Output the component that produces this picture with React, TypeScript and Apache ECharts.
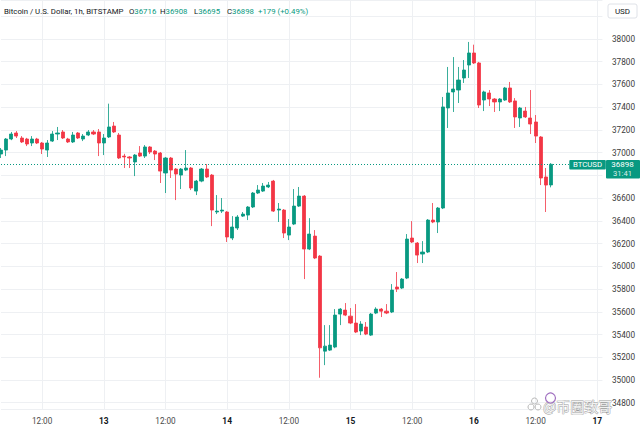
import React, { useEffect, useRef } from "react";
import * as echarts from "echarts";

// time slots: hourly candles starting at day 12, 04:00
const startDay = 12;
const startHour = 4;
const slotCount = 118;

const open = [
  36988, 37023, 37120, 37173, 37129, 37120, 37085, 37120, 37085, 37023,
  37102, 37164, 37182, 37120, 37094, 37173, 37120, 37155, 37182, 37182,
  37085, 37138, 37234, 37155, 36970, 36962, 36918, 36997, 36970, 37050,
  37014, 36997, 36821, 36953, 36856, 36803, 36847, 36865, 36662, 36750,
  36856, 36803, 36478, 36486, 36478, 36249, 36337, 36442, 36451, 36522,
  36645, 36662, 36698, 36750, 36495, 36495, 36275, 36372, 36530, 36618,
  36152, 36266, 36090, 35254, 35263, 35290, 35580, 35615, 35562, 35501,
  35431, 35466, 35395, 35589, 35624, 35606, 35598, 35818, 35809, 35897,
  36249, 36205, 36108, 36126, 36407, 36390, 36513, 37393, 37534, 37551,
  37657, 37771, 37877, 37789, 37463, 37525, 37472, 37446, 37463, 37569,
  37455, 37305, 37366, 37305, 37270, 37138, 36786, 36716,
];
const high = [
  37041, 37129, 37182, 37190, 37146, 37130, 37146, 37130, 37094, 37111,
  37190, 37226, 37199, 37130, 37182, 37182, 37164, 37199, 37199, 37208,
  37164, 37431, 37270, 37173, 36990, 36970, 36988, 37058, 37067, 37058,
  37023, 37006, 36962, 36962, 36865, 36865, 37023, 36874, 36760, 36865,
  36900, 36812, 36627, 36601, 36486, 36442, 36451, 36478, 36530, 36654,
  36715, 36733, 36742, 36760, 36557, 36504, 36416, 36680, 36698, 36627,
  36424, 36319, 36099, 35483, 35483, 35624, 35633, 35677, 35633, 35668,
  35518, 35510, 35590, 35640, 35633, 35668, 35844, 35950, 35897, 36284,
  36398, 36214, 36222, 36416, 36557, 36522, 37490, 37754, 37841, 37754,
  37815, 37974, 37950, 37798, 37545, 37551, 37480, 37480, 37578, 37622,
  37480, 37402, 37402, 37551, 37331, 37146, 36865, 36908,
];
const low = [
  36953, 36970, 37110, 37129, 37085, 37058, 37058, 37076, 36988, 36962,
  37094, 37111, 37120, 37085, 37085, 37120, 37102, 37146, 37155, 36970,
  36979, 37129, 37173, 36944, 36865, 36865, 36794, 36962, 36953, 36988,
  36935, 36733, 36645, 36777, 36583, 36680, 36838, 36671, 36627, 36740,
  36777, 36354, 36460, 36469, 36214, 36231, 36320, 36434, 36407, 36513,
  36636, 36654, 36689, 36478, 36390, 36249, 36231, 36363, 36522, 35888,
  36143, 36064, 35020, 35131, 35255, 35280, 35483, 35562, 35492, 35413,
  35395, 35395, 35387, 35580, 35554, 35580, 35589, 35774, 35800, 35888,
  36205, 36029, 36029, 36117, 36380, 36293, 36504, 37217, 37358, 37437,
  37613, 37657, 37780, 37393, 37366, 37410, 37358, 37366, 37455, 37437,
  37217, 37226, 37305, 37164, 37085, 36715, 36478, 36695,
];
const close = [
  37023, 37120, 37164, 37146, 37094, 37076, 37120, 37085, 37032, 37085,
  37164, 37173, 37129, 37094, 37155, 37129, 37146, 37182, 37164, 37085,
  37129, 37226, 37182, 36953, 36962, 36953, 36979, 36970, 37050, 37006,
  36988, 36838, 36953, 36847, 36812, 36856, 36865, 36689, 36750, 36856,
  36786, 36495, 36486, 36495, 36258, 36346, 36434, 36460, 36522, 36645,
  36671, 36706, 36715, 36486, 36504, 36293, 36346, 36530, 36618, 36152,
  36284, 36073, 35283, 35298, 35307, 35571, 35624, 35571, 35501, 35422,
  35492, 35404, 35580, 35624, 35606, 35589, 35791, 35800, 35888, 36240,
  36214, 36099, 36126, 36407, 36390, 36513, 37402, 37525, 37560, 37639,
  37727, 37877, 37789, 37419, 37534, 37472, 37446, 37472, 37569, 37446,
  37314, 37393, 37314, 37252, 37146, 36777, 36715, 36898,
];

const symbolName = "Bitcoin / U.S. Dollar, 1h, BITSTAMP";
const tickerLabel = "BTCUSD";
const countdown = "31:41";
const currency = "USD";
const legendItems = [
  { k: "O", v: "36716" },
  { k: "H", v: "36908" },
  { k: "L", v: "36695" },
  { k: "C", v: "36898" },
];
const changeText = "+179 (+0.49%)";
const watermark = "@币圈致哥";

const UP = "#089981";
const DOWN = "#f23645";
const FONT = "Roboto, 'Liberation Sans', sans-serif";

export default function App() {
  const ref = useRef<HTMLDivElement>(null);

  useEffect(() => {
    document.body.style.margin = "0";
    const chart = echarts.init(ref.current!, null, { renderer: "svg" });

    const times: string[] = [];
    for (let i = 0; i < slotCount; i++) {
      const t = startHour + i;
      const d = startDay + Math.floor(t / 24);
      const h = t % 24;
      times.push(`${d} ${String(h).padStart(2, "0")}:00`);
    }
    const isMajor = (idx: number) => {
      const h = (startHour + idx) % 24;
      return h === 0 || h === 12;
    };
    const candles = open.map((o, i) => [o, close[i], low[i], high[i]]);
    const last = close[close.length - 1];

    chart.setOption({
      animation: false,
      grid: { left: 1, right: 37.6, top: 0, bottom: 24, containLabel: false },
      xAxis: {
        type: "category",
        data: times,
        boundaryGap: false,
        axisLine: { show: false },
        axisTick: { show: false },
        axisLabel: {
          interval: (i: number) => isMajor(i),
          formatter: (v: string) => {
            const [d, hm] = v.split(" ");
            return hm === "00:00" ? `{d|${d}}` : hm;
          },
          color: "#4a4a4a",
          fontSize: 8.2,
          fontFamily: FONT,
          margin: 8,
          rich: {
            d: { fontWeight: "bold", color: "#131722", fontSize: 8.4, fontFamily: FONT },
          },
        },
        splitLine: {
          show: true,
          interval: (i: number) => isMajor(i),
          lineStyle: { color: "#eef0f3", width: 1 },
        },
      },
      yAxis: {
        type: "value",
        position: "right",
        min: 34745,
        max: 38343,
        minInterval: 200,
        maxInterval: 200,
        splitNumber: 18,
        scale: true,
        axisLine: { show: false },
        axisTick: { show: false },
        axisLabel: {
          showMinLabel: false,
          showMaxLabel: false,
          margin: 9.6,
          color: "#3b3b3b",
          fontSize: 8.2,
          fontFamily: FONT,
          // labels hidden behind the currency button and the last-price tag
          formatter: (v: number) =>
            v > 38100 || (v < last && last - v < 150) ? "" : String(v),
        },
        splitLine: { show: true, lineStyle: { color: "#eef0f3", width: 1 } },
      },
      series: [
        {
          type: "candlestick",
          data: candles,
          barWidth: 3.6,
          itemStyle: {
            color: UP,
            color0: DOWN,
            borderColor: UP,
            borderColor0: DOWN,
            borderWidth: 0.8,
          },
          markLine: {
            silent: true,
            symbol: "none",
            label: { show: false },
            lineStyle: { color: UP, type: [1, 2], width: 1 },
            data: [{ yAxis: last }],
          },
        },
      ],
    });

    const yLine = chart.convertToPixel({ yAxisIndex: 0 }, last) as number;

    const legendX = [129, 160, 194, 227];
    const graphics: any[] = [
      {
        type: "text",
        x: 4,
        y: 11.5,
        style: {
          text: symbolName,
          fill: "#131722",
          fontSize: 7.8,
          fontFamily: FONT,
          verticalAlign: "middle",
        },
      },
      ...legendItems.map((it, i) => ({
        type: "text",
        x: legendX[i],
        y: 11.5,
        style: {
          text: `{k|${it.k}}{v|${it.v}}`,
          verticalAlign: "middle",
          rich: {
            k: { fill: "#131722", fontSize: 7.8, fontFamily: FONT },
            v: { fill: UP, fontSize: 7.8, fontFamily: FONT },
          },
        },
      })),
      {
        type: "text",
        x: 258,
        y: 11.5,
        style: { text: changeText, fill: UP, fontSize: 7.8, fontFamily: FONT, verticalAlign: "middle" },
      },
      // currency button
      {
        type: "rect",
        shape: { x: 608, y: 4, width: 29, height: 14, r: 2 },
        style: { fill: "#ffffff", stroke: "#dfe2e8", lineWidth: 1 },
      },
      {
        type: "text",
        x: 622.5,
        y: 11,
        style: { text: currency, fill: "#131722", fontSize: 8, fontFamily: FONT, align: "center", verticalAlign: "middle" },
      },
      // ticker + last price labels
      {
        type: "rect",
        shape: { x: 569.3, y: yLine - 4.3, width: 36.5, height: 9.5, r: 1 },
        style: { fill: UP },
      },
      {
        type: "text",
        x: 587.5,
        y: yLine + 0.5,
        style: { text: tickerLabel, fill: "#ffffff", fontSize: 7.8, fontFamily: FONT, align: "center", verticalAlign: "middle" },
      },
      {
        type: "rect",
        shape: { x: 606, y: yLine - 4.3, width: 34, height: 18.5, r: 1 },
        style: { fill: UP },
      },
      {
        type: "text",
        x: 622.5,
        y: yLine + 0.5,
        style: { text: String(last), fill: "#ffffff", fontSize: 8, fontFamily: FONT, align: "center", verticalAlign: "middle" },
      },
      {
        type: "text",
        x: 622.5,
        y: yLine + 9.3,
        style: { text: countdown, fill: "rgba(255,255,255,0.85)", fontSize: 7.6, fontFamily: FONT, align: "center", verticalAlign: "middle" },
      },
      // watermark
      {
        type: "circle",
        shape: { cx: 531, cy: 407, r: 3 },
        style: { fill: "none", stroke: "#b8b8b8", lineWidth: 1 },
      },
      {
        type: "circle",
        shape: { cx: 538, cy: 407, r: 3 },
        style: { fill: "none", stroke: "#b8b8b8", lineWidth: 1 },
      },
      {
        type: "circle",
        shape: { cx: 534.5, cy: 401, r: 3 },
        style: { fill: "none", stroke: "#b8b8b8", lineWidth: 1 },
      },
      {
        type: "text",
        x: 543,
        y: 406,
        style: {
          text: watermark,
          fill: "rgba(255,255,255,0.9)",
          stroke: "#9a9a9a",
          lineWidth: 0.8,
          fontSize: 14,
          fontFamily: "'Noto Sans CJK SC', sans-serif",
          verticalAlign: "middle",
        },
      },
      {
        type: "circle",
        shape: { cx: 550.5, cy: 398, r: 5 },
        style: { fill: "rgba(255,255,255,0.7)", stroke: "#a070c0", lineWidth: 1.2 },
      },
    ].map((g) => ({ ...g, z: 100 }));

    chart.setOption({ graphic: graphics });

    return () => {
      chart.dispose();
    };
  }, []);

  return <div ref={ref} style={{ width: 640, height: 433 }} />;
}
